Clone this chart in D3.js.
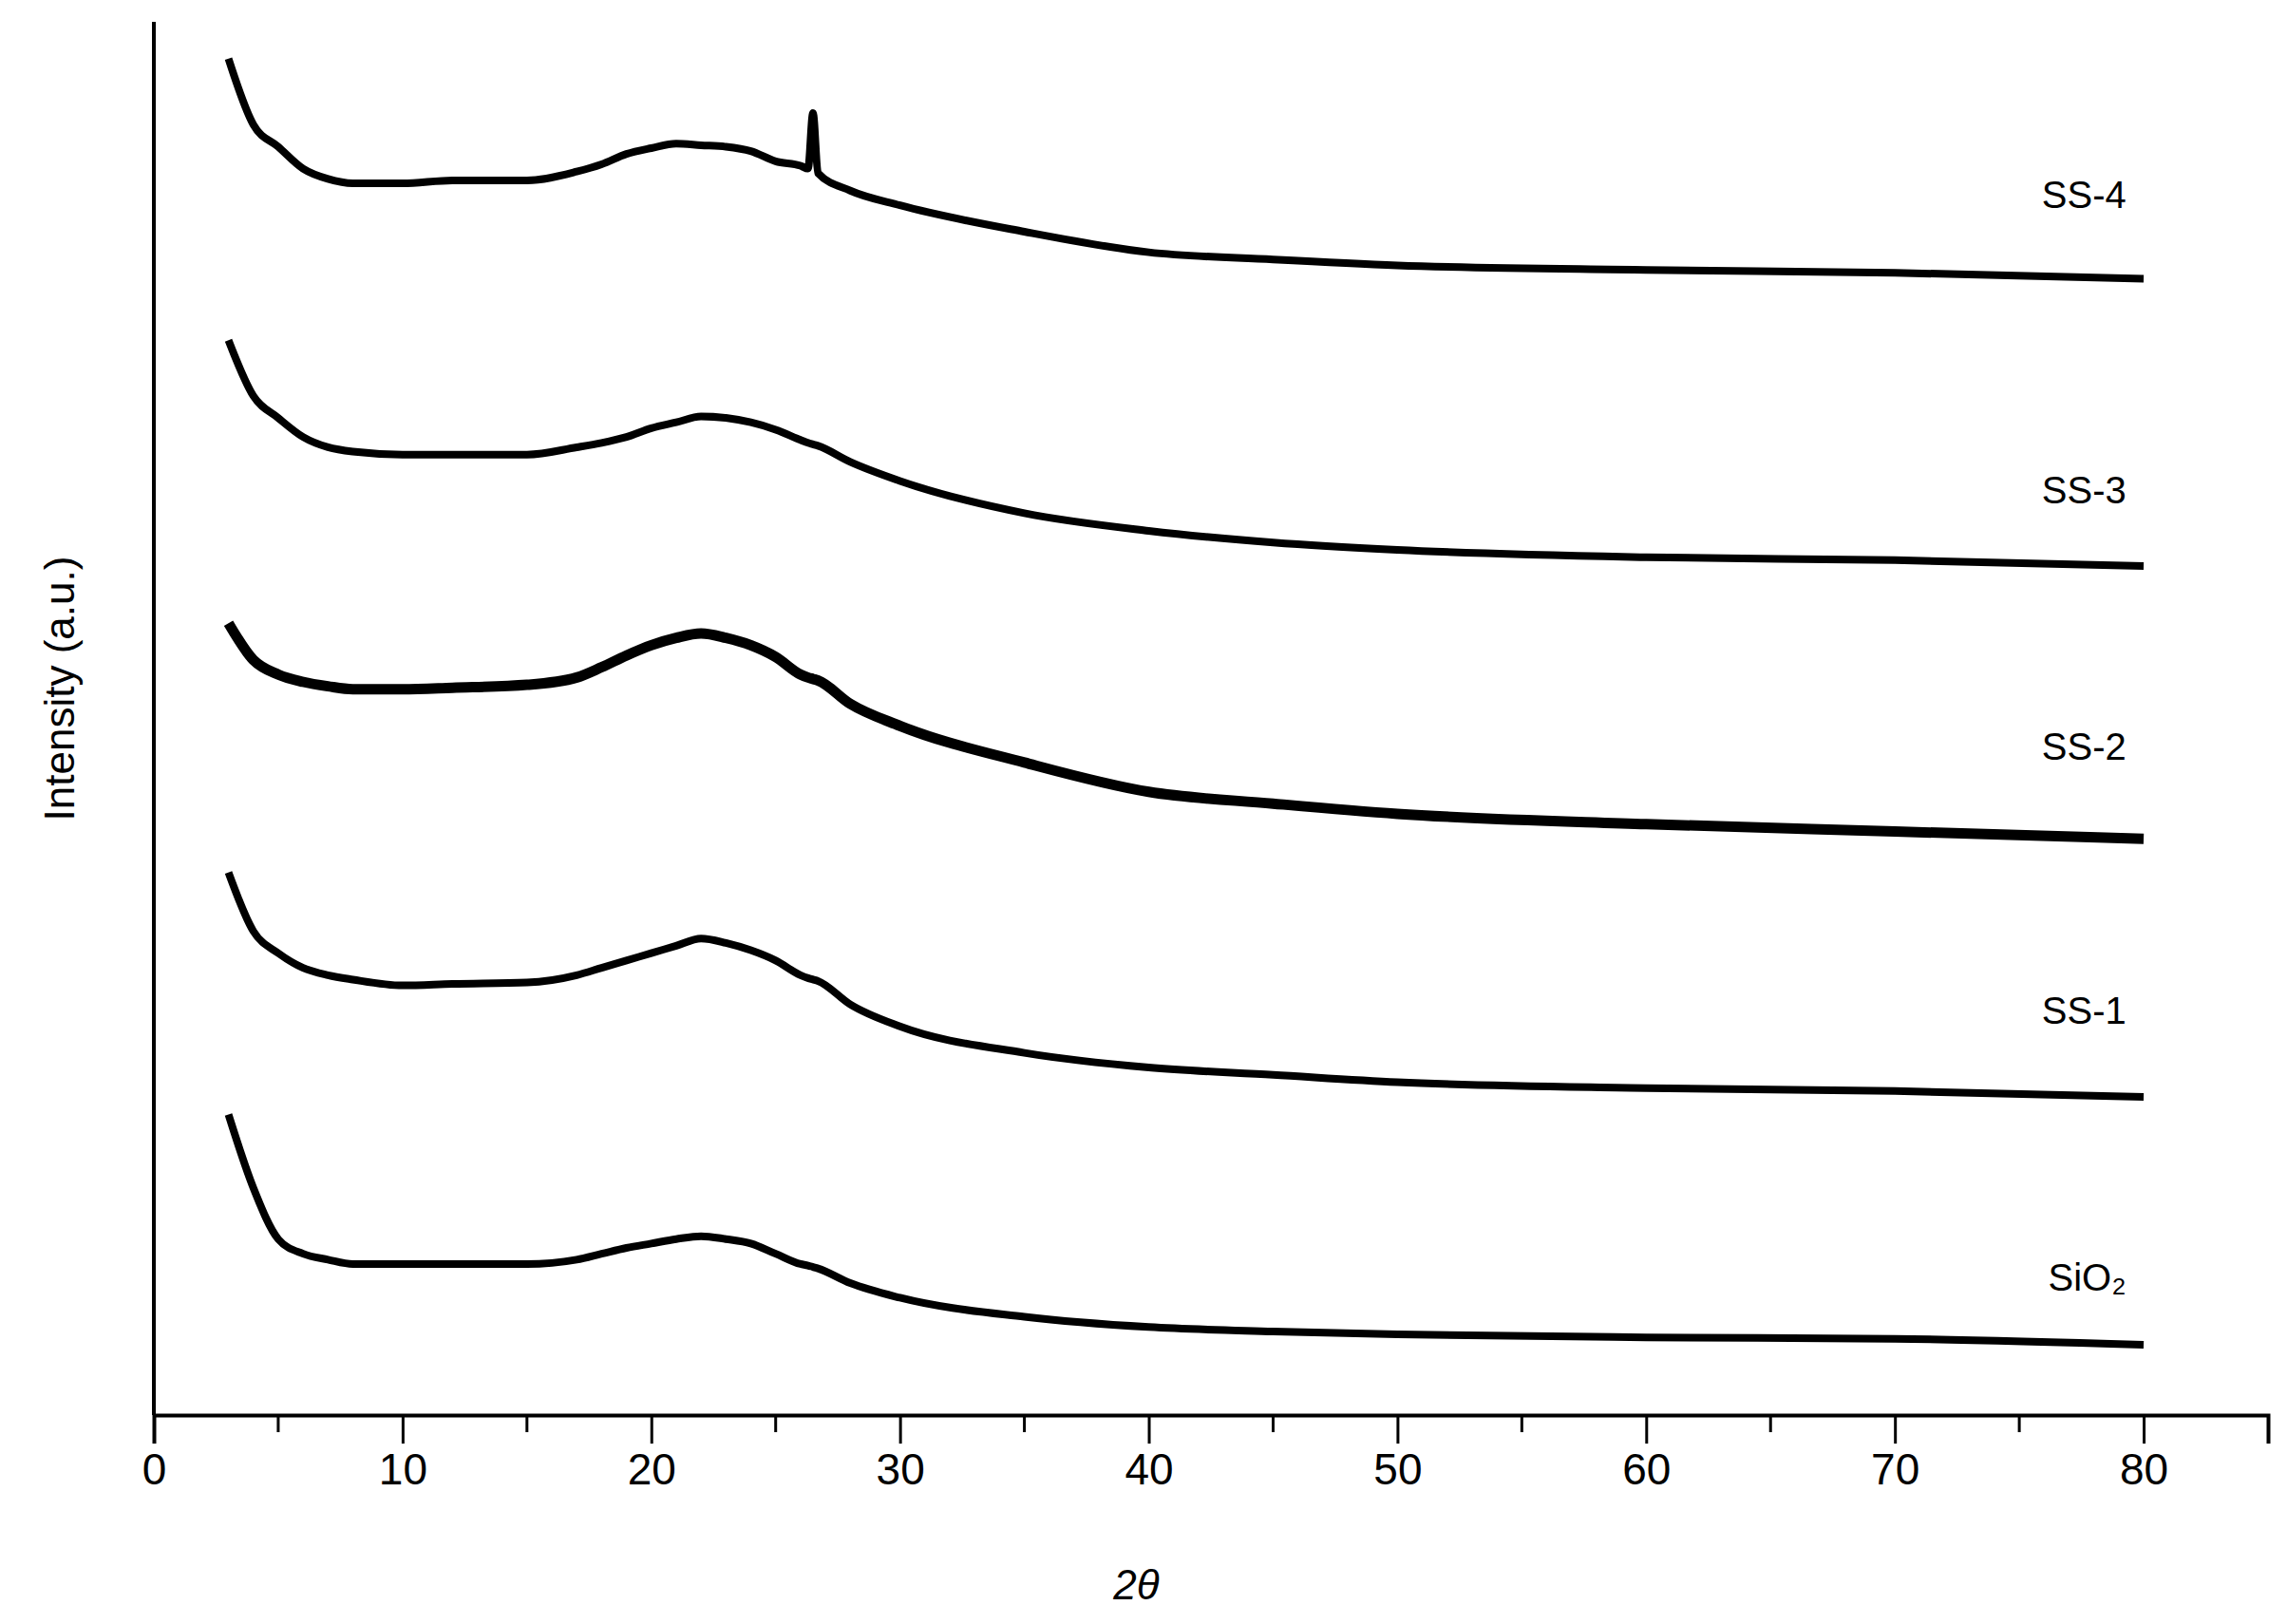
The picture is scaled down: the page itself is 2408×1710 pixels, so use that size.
<!DOCTYPE html>
<html><head><meta charset="utf-8">
<script src="https://cdn.jsdelivr.net/npm/d3@7"></script>
<style>body{margin:0;background:#fff}</style>
</head><body>
<svg id="chart" width="2408" height="1710"></svg>
<script>
// 2-theta positions (degrees)
const twoTheta = [3, 4, 5, 6, 7, 8, 10, 12, 15, 17, 18, 19, 20, 21, 22, 23, 24, 25, 26, 26.3, 26.5, 26.7, 28, 30, 35, 40, 45, 50, 60, 70, 80];
// intensities (a.u.)
const ss4  = [925, 880, 865, 850, 843, 840, 840, 842, 842, 848, 853, 860, 864, 867, 866, 865, 862, 855, 852, 850, 888, 847, 835, 825, 807, 793, 788, 784, 781, 779, 775];
const ss3  = [733, 695, 680, 667, 660, 657, 655, 655, 655, 660, 663, 667, 673, 677, 681, 680, 677, 672, 665, 663, 662, 661, 650, 637, 615, 603, 595, 590, 585, 583, 579];
const ss2  = [540, 515, 505, 500, 497, 495, 495, 496, 498, 503, 510, 518, 525, 530, 533, 530, 525, 517, 505, 503, 502, 501, 485, 470, 445, 425, 417, 410, 403, 398, 393];
const ss1  = [370, 330, 315, 305, 300, 297, 293, 294, 295, 300, 305, 310, 315, 320, 325, 322, 317, 310, 300, 298, 297, 296, 280, 265, 247, 237, 232, 227, 223, 221, 217];
const sio2 = [205, 155, 120, 110, 106, 103, 103, 103, 103, 106, 110, 114, 117, 120, 122, 120, 117, 110, 103, 102, 101, 100, 90, 80, 67, 60, 57, 55, 53, 52, 48];
const seriesNames = ["SS-4", "SS-3", "SS-2", "SS-1", "SiO\u2082"];
const seriesData = [ss4, ss3, ss2, ss1, sio2];
const labelY = [823, 622, 447, 267, 85];
const xTicks = [0, 10, 20, 30, 40, 50, 60, 70, 80];

const svg = d3.select("#chart");
const plotLeft = 162, plotRight = 2388, plotTop = 23, plotBottom = 1490;
const x = d3.scaleLinear().domain([0, 85]).range([plotLeft, plotRight]);
const y = d3.scaleLinear().domain([0, 950]).range([plotBottom, plotBottom - 950 * 1.544]);
const font = "Liberation Sans, Arial, sans-serif";

const line = d3.line().x((d, i) => x(twoTheta[i])).y(d => y(d)).curve(d3.curveMonotoneX);
seriesData.forEach((s, k) => {
  svg.append("path").datum(s).attr("d", line)
    .attr("fill", "none").attr("stroke", "#000")
    .attr("stroke-width", k === 2 ? 11 : 8).attr("stroke-linejoin", "round");
  svg.append("text").attr("x", x(79.3)).attr("y", y(labelY[k]))
    .attr("text-anchor", "end").attr("font-family", font)
    .attr("font-size", 40).text(seriesNames[k]);
});

// axes
const xAxis = d3.axisBottom(x).tickValues(xTicks).tickSize(30).tickFormat(d3.format("d"));
const gx = svg.append("g").attr("transform", `translate(0,${plotBottom})`).call(xAxis);
gx.select(".domain").attr("stroke-width", 4);
gx.selectAll(".tick line").attr("stroke-width", 3);
gx.selectAll(".tick text").attr("font-size", 46).attr("dy", 40).attr("font-family", font);
d3.range(5, 85, 10).forEach(v => {
  svg.append("line").attr("x1", x(v)).attr("x2", x(v)).attr("y1", plotBottom).attr("y2", plotBottom + 18)
    .attr("stroke", "#000").attr("stroke-width", 3);
});
svg.append("line").attr("x1", plotLeft).attr("x2", plotLeft).attr("y1", plotTop).attr("y2", plotBottom)
  .attr("stroke", "#000").attr("stroke-width", 4);

svg.append("text").attr("x", x(39.5)).attr("y", 1684).attr("text-anchor", "middle")
  .attr("font-family", font).attr("font-size", 44)
  .attr("font-style", "italic").text("2\u03B8");
svg.append("text").attr("transform", `translate(78,725) rotate(-90)`).attr("text-anchor", "middle")
  .attr("font-family", font).attr("font-size", 44)
  .text("Intensity (a.u.)");
</script>
</body></html>
